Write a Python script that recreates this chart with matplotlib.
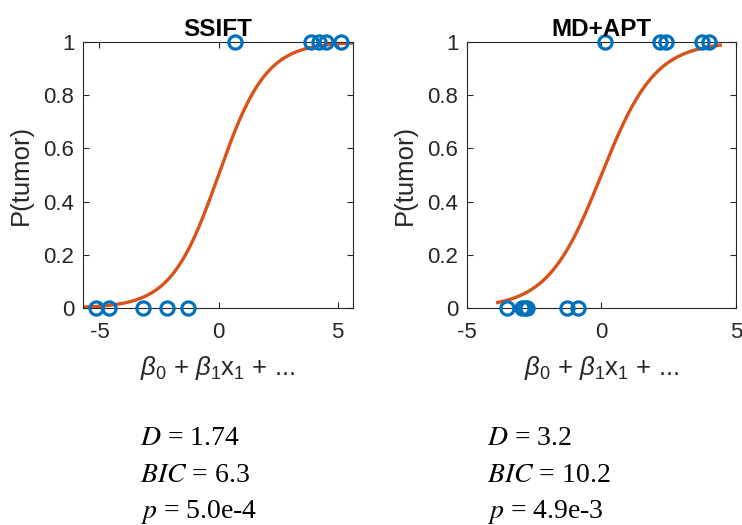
import numpy as np
import matplotlib
matplotlib.use("Agg")
import matplotlib.pyplot as plt

plt.rcParams['font.family'] = ['Liberation Sans', 'DejaVu Sans']
plt.rcParams['mathtext.fontset'] = 'custom'
plt.rcParams['mathtext.rm'] = 'Liberation Sans'
plt.rcParams['mathtext.it'] = 'Liberation Sans:italic'
plt.rcParams['axes.unicode_minus'] = False

# values
titles = ["SSIFT", "MD+APT"]
x_zero_left = [-5.15, -4.61, -3.15, -2.17, -1.30]
x_one_left = [0.68, 3.87, 4.20, 4.50, 5.13]
x_zero_right = [-3.50, -2.95, -2.85, -2.75, -1.28, -0.88]
x_one_right = [0.13, 2.17, 2.40, 3.75, 3.98]
curve_range_left = [-5.66, 5.64]
curve_range_right = [-3.85, 4.42]
xlims = [(-5.7, 5.63), (-5, 5)]
stats_left = ["1.74", "6.3", "5.0e-4"]
stats_right = ["3.2", "10.2", "4.9e-3"]

blue = "#0072BD"
orange = "#D95319"
axcol = "#262626"

W, H = 742, 525
fig = plt.figure(figsize=(W / 100, H / 100), dpi=100)

panels = [
    (82.7, 270.0, x_zero_left, x_one_left, curve_range_left, stats_left, 140),
    (466.7, 269.3, x_zero_right, x_one_right, curve_range_right, stats_right, 486.7),
]

for i, (left, width, xz, xo, cr, stats, tx) in enumerate(panels):
    ax = fig.add_axes([left / W, 1 - 308 / H, width / W, 266 / H])
    xs = np.linspace(cr[0], cr[1], 200)
    ax.plot(xs, 1 / (1 + np.exp(-xs)), color=orange, lw=2.4, zorder=2)
    ax.plot(xz, np.zeros(len(xz)), 'o', mfc='none', mec=blue, mew=2.3, ms=9.5,
            clip_on=False, zorder=3)
    ax.plot(xo, np.ones(len(xo)), 'o', mfc='none', mec=blue, mew=2.3, ms=9.5,
            clip_on=False, zorder=3)
    ax.set_xlim(*xlims[i])
    ax.set_ylim(0, 1)
    ax.set_xticks([-5, 0, 5])
    ax.set_yticks([0, 0.2, 0.4, 0.6, 0.8, 1])
    ax.set_yticklabels(["0", "0.2", "0.4", "0.6", "0.8", "1"])
    ax.tick_params(direction='in', length=4, width=0.8, colors=axcol,
                   labelsize=16, top=True, right=True)
    ax.tick_params(axis='x', pad=10)
    ax.tick_params(axis='y', pad=6)
    for s in ax.spines.values():
        s.set_color(axcol)
        s.set_linewidth(0.8)
    ax.set_title(titles[i], fontsize=17.5, fontweight='bold', pad=4)
    ax.set_ylabel("P(tumor)", fontsize=18.5, color=axcol, labelpad=8)
    ax.set_xlabel(r'$\beta_0$ + $\beta_1$x$_1$ + ...', fontsize=18.5,
                  color=axcol, labelpad=8)

    names = [r'$D$', r'$BIC$', r'$p$']
    for j, (nm, val) in enumerate(zip(names, stats)):
        fig.text(tx / W, 1 - (445 + 36.7 * j) / H, nm + " = " + val,
                 fontsize=20, family='Liberation Serif', math_fontfamily='stix',
                 ha='left', va='baseline')

fig.savefig("out.png", dpi=100)
